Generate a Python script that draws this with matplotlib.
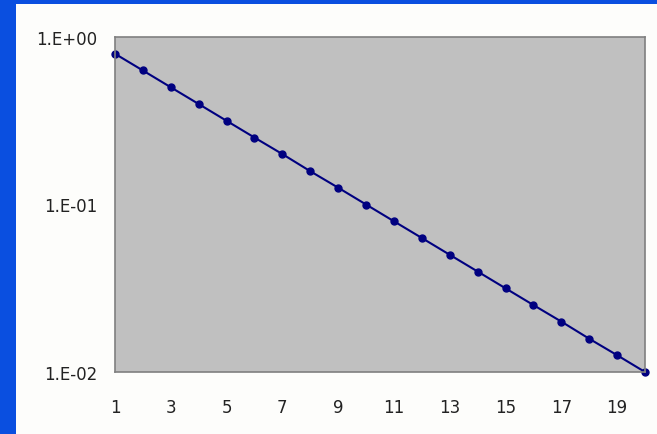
import matplotlib
matplotlib.use("Agg")
import matplotlib.pyplot as plt
from matplotlib.patches import Rectangle

# values (log scale, one decade per ten steps)
x_vals = list(range(1, 21))
y_vals = [0.794, 0.631, 0.501, 0.398, 0.316, 0.251, 0.200, 0.158, 0.126, 0.100,
          0.0794, 0.0631, 0.0501, 0.0398, 0.0316, 0.0251, 0.0200, 0.0158, 0.0126, 0.0100]
x_ticks = [1, 3, 5, 7, 9, 11, 13, 15, 17, 19]
y_ticks = [0.01, 0.1, 1.0]
y_tick_labels = ["1.E-02", "1.E-01", "1.E+00"]

fig = plt.figure(figsize=(6.57, 4.35), dpi=100)
fig.patch.set_facecolor("#0a4fe0")

# white panel inside the blue window frame
fig.patches.append(Rectangle((16 / 657, 0), 1, (435 - 5) / 435, transform=fig.transFigure,
                             facecolor="#fdfdfb", edgecolor="none", zorder=-5))

ax = fig.add_axes([115 / 657, 62 / 435, 530 / 657, 335 / 435])
ax.set_zorder(1)
ax.set_facecolor("#c0c0c0")
for s in ax.spines.values():
    s.set_color("#808080")
    s.set_linewidth(1.2)

ax.plot(x_vals, y_vals, color="#000080", linewidth=1.5, marker="o", markersize=5,
        clip_on=False)

ax.set_yscale("log")
ax.set_ylim(0.01, 1.0)
ax.set_xlim(1, 20)
ax.set_yticks(y_ticks)
ax.set_yticklabels(y_tick_labels)
ax.yaxis.set_minor_locator(matplotlib.ticker.NullLocator())
ax.set_xticks(x_ticks)
ax.tick_params(axis="both", length=0, labelsize=12, labelcolor="#222222")
ax.tick_params(axis="y", pad=13)
ax.tick_params(axis="x", pad=19)

fig.savefig("out.png", dpi=100, facecolor=fig.get_facecolor())
